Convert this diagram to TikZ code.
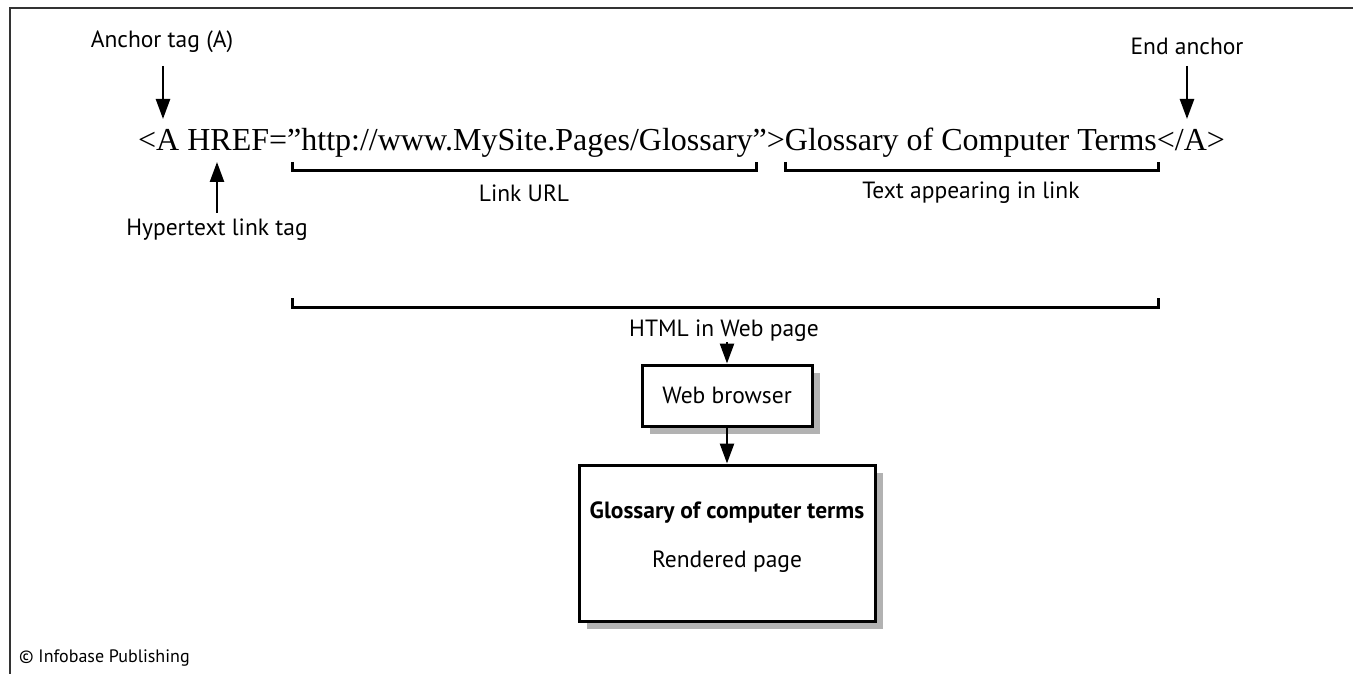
\documentclass[tikz,border=0pt]{standalone}
\usepackage{fontspec}
\setmainfont{Liberation Serif}
\newfontfamily\labelsf{PT Sans}
\usetikzlibrary{arrows.meta,shadows}

\tikzset{
  lbl/.style={font=\labelsf\fontsize{23.5}{26}\selectfont, inner sep=1pt},
  pointer/.style={line width=2.5pt, -{Triangle[length=20pt,width=14pt]}},
  brace/.style={line width=3pt},
  pagebox/.style={draw, line width=3pt, fill=white,
    drop shadow={shadow xshift=8pt, shadow yshift=-8pt, fill=black!30, opacity=1}},
}

\begin{document}
\begin{tikzpicture}[x=1pt, y=-1pt]
    \useasboundingbox (0,0) rectangle (1353,674);

    % Frame
    \draw[line width=1.8pt, black!80] (10,674) -- (10,8) -- (1353,8);

    % HTML source line
    \node[anchor=base west, inner sep=0, font=\fontsize{32}{36}\selectfont] (code) at (138,151)
        {<A HREF=”http://www.MySite.Pages/Glossary”>Glossary of Computer Terms</A>};

    % Anchor tag
    \node[lbl] (anchortag) at (162,42) {Anchor tag (A)};
    \coordinate (anchortop) at (163,66);
    \coordinate (anchortip) at (163,119);
    \draw[pointer] (anchortop) -- (anchortip);

    % Hypertext link tag
    \node[lbl] (linktag) at (217,230) {Hypertext link tag};
    \coordinate (linkbot) at (217,213);
    \coordinate (linktip) at (217,162);
    \draw[pointer] (linkbot) -- (linktip);

    % End anchor
    \node[lbl] (endanchor) at (1187,46) {End anchor};
    \coordinate (endtop) at (1187,66);
    \coordinate (endtip) at (1187,119);
    \draw[pointer] (endtop) -- (endtip);

    % Brackets
    \draw[brace] (292,162) -- (292,171) -- (756,171) -- (756,162);
    \node[lbl] (linkurl) at (524,193) {Link URL};
    \draw[brace] (785,162) -- (785,171) -- (1158,171) -- (1158,162);
    \node[lbl] (linktext) at (971,193) {Text appearing in link};
    \draw[brace] (292,298) -- (292,307) -- (1158,307) -- (1158,298);
    \node[lbl] (htmlpage) at (724,331) {HTML in Web page};

    % Browser and rendered page
    \node[pagebox, lbl, minimum width=170pt, minimum height=61pt] (browser) at (727,395.5) {\raisebox{-4pt}{Web browser}};
    \node[pagebox, lbl, minimum width=296pt, minimum height=156pt] (rendered) at (727,543) {};
    \node[lbl, align=center] (renderedtext) at (727,537)
        {{\bfseries Glossary of computer terms}\\[23pt] Rendered page};
    \coordinate (htmlbot) at (727,342);
    \draw[pointer] (htmlbot) -- (browser.north);
    \draw[pointer] (browser.south) -- (rendered.north);

    % Credit
    \node[lbl, font=\labelsf\fontsize{18}{20}\selectfont, anchor=west] (credit) at (18,658) {© Infobase Publishing};
\end{tikzpicture}
\end{document}
